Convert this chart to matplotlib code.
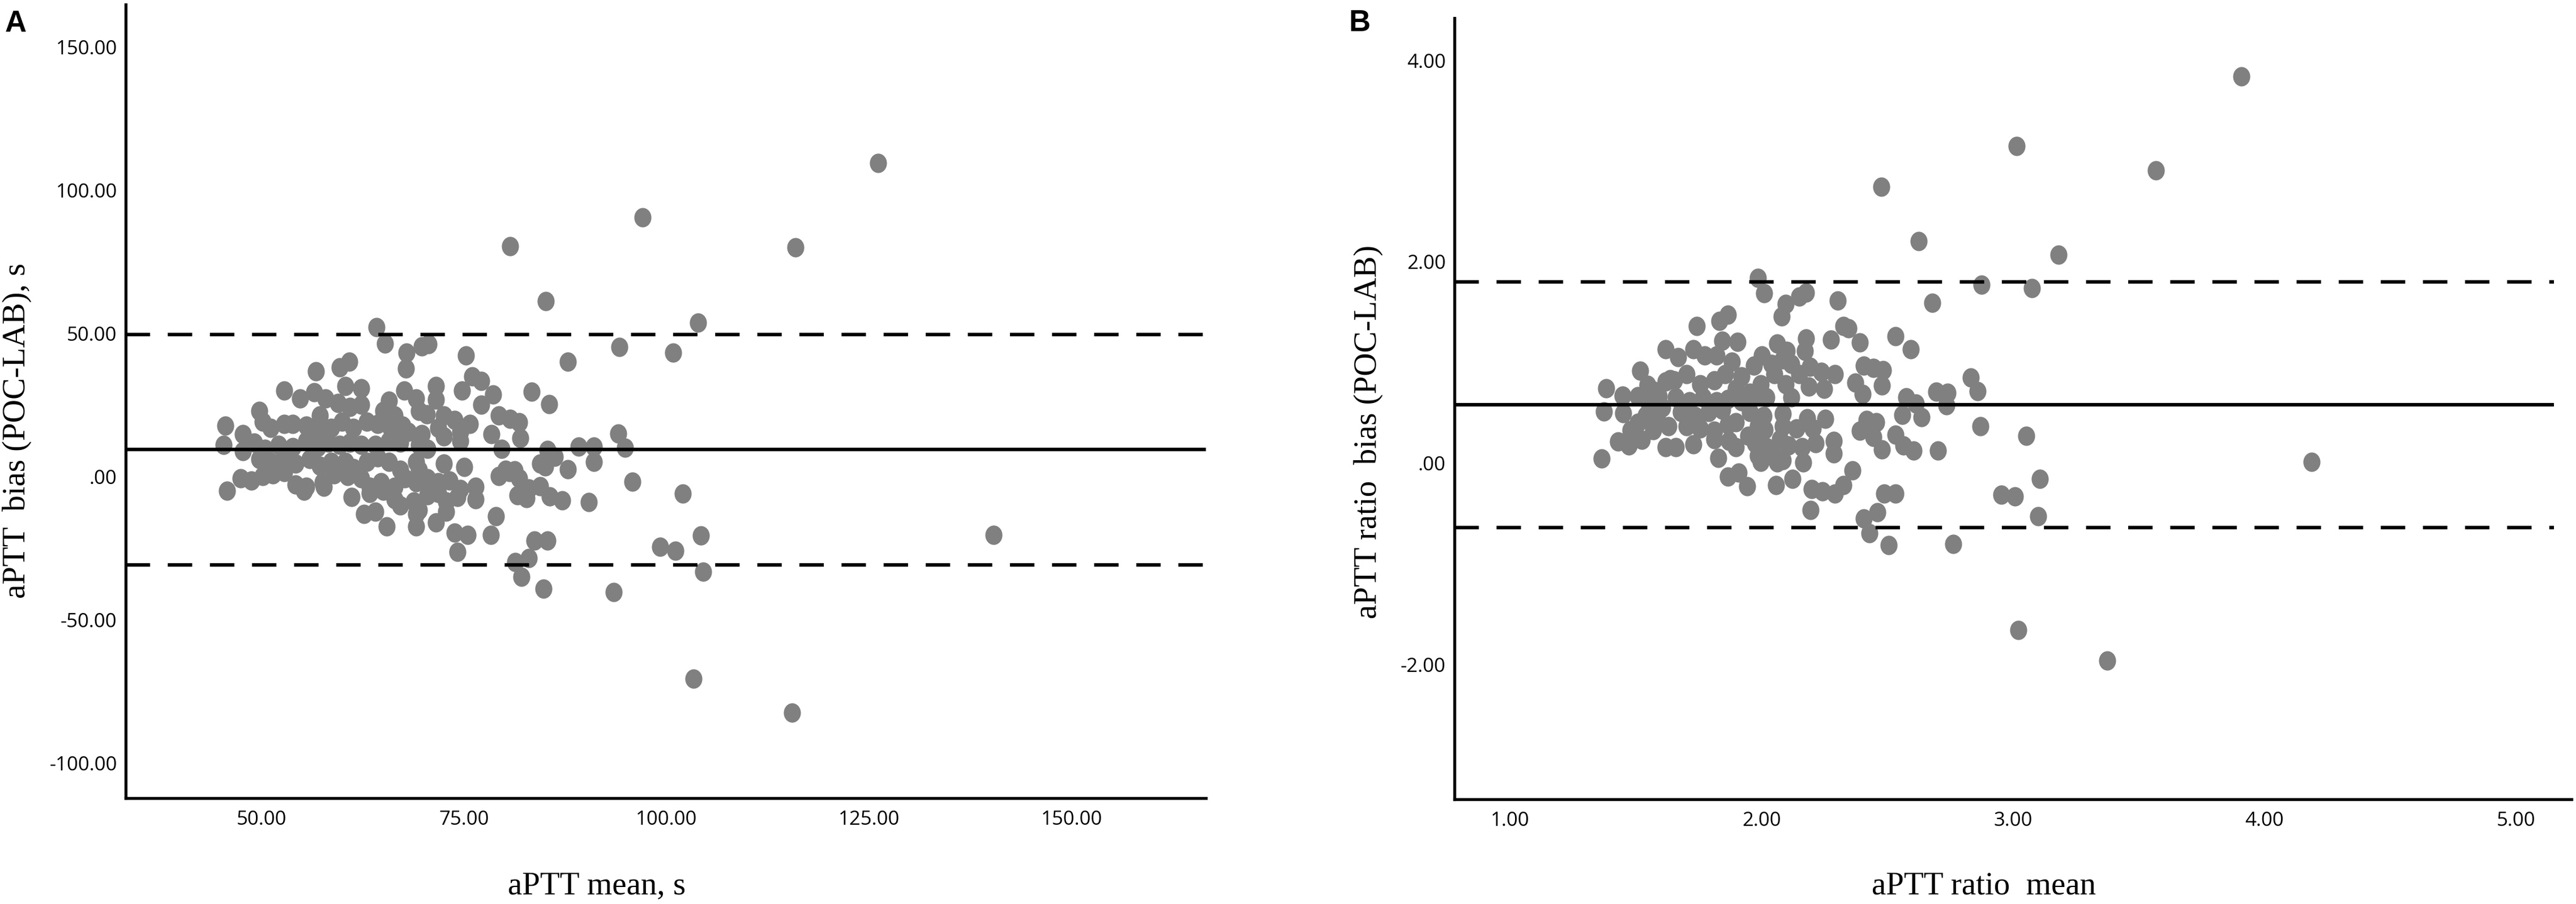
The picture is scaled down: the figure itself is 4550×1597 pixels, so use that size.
import numpy as np
import matplotlib.pyplot as plt
from matplotlib.path import Path
from matplotlib.ticker import FuncFormatter

# Panel A: aPTT mean (s) vs bias POC-LAB (s)
a_mean = [126.1, 97.0, 115.9, 80.7, 85.1, 103.9, 94.2, 100.8, 87.8, 83.3, 85.5, 80.7, 81.8, 81.9,
          94.0, 94.9, 89.1, 91.0, 85.3, 86.2, 91.0, 87.8, 85.0, 81.2, 81.8, 83.0, 84.4, 82.7,
          85.6, 87.1, 90.4, 95.8, 102.0, 140.4, 83.7, 85.3, 83.0, 81.3, 99.2, 101.1, 104.2,
          104.5, 82.1, 84.8, 93.5, 103.3, 115.5,
          64.2, 65.2, 67.9, 69.8, 70.6, 67.8, 75.2, 56.7, 59.6, 60.8, 52.8, 54.7, 56.5, 57.9,
          60.3, 62.3, 59.4, 60.9, 62.3, 76.0, 77.1, 74.7, 71.5, 71.5, 67.6, 69.1, 65.7, 78.6,
          77.1, 49.7, 65.0, 66.4, 57.2, 69.4, 70.4, 72.5, 73.8, 75.7, 79.3,
          45.5, 47.7, 50.1, 51.1, 52.8, 53.8, 55.5, 56.9, 58.6, 59.9, 61.3, 63.0, 64.3, 65.9,
          67.4, 68.1, 69.8, 71.8, 72.5, 74.5, 74.5, 78.4,
          45.3, 47.7, 49.1, 50.4, 52.1, 53.8, 55.5, 56.9, 58.2, 59.6, 60.9, 62.3, 64.0, 65.7,
          67.1, 69.4, 70.5, 79.6,
          49.7, 51.1, 52.8, 54.2, 55.9, 57.2, 58.6, 60.3, 61.3, 63.0, 64.3, 65.7, 67.1, 69.1,
          69.4, 72.5, 75.0, 80.1, 84.4,
          47.4, 48.7, 50.1, 51.4, 52.8, 54.2, 55.5, 57.5, 58.9, 60.6, 62.3, 63.3, 64.7, 66.4,
          67.7, 69.1, 70.5, 71.8, 73.2, 74.5, 79.3, 80.6,
          45.7, 55.2, 57.7, 61.1, 63.3, 65.0, 66.4, 67.1, 68.8, 69.4, 70.5, 71.8, 72.8, 74.2,
          76.4, 76.4, 81.6,
          62.6, 64.0, 65.4, 69.1, 71.5, 72.8, 69.1, 78.9, 78.3, 73.8, 75.4, 74.2]
a_bias = [109.4, 90.5, 80.0, 80.4, 61.2, 53.8, 45.2, 43.3, 40.1, 29.6, 25.3, 20.1, 19.0, 13.5,
          15.0, 10.0, 10.4, 10.4, 9.3, 6.9, 5.2, 2.5, 3.5, 2.1, -0.6, -4.1, -3.4, -7.6,
          -6.9, -8.3, -9.0, -1.8, -5.9, -20.3, -22.4, -22.4, -28.4, -29.8, -24.6, -26.0, -20.5,
          -33.2, -35.0, -39.2, -40.3, -70.6, -82.4,
          52.1, 46.4, 43.3, 45.5, 46.2, 37.8, 42.2, 36.7, 38.2, 40.0, 30.1, 27.2, 29.4, 27.2,
          31.6, 30.8, 25.7, 24.3, 25.0, 34.9, 33.4, 30.1, 31.6, 26.8, 30.1, 27.2, 26.4, 28.6,
          25.0, 22.8, 22.8, 21.3, 21.3, 22.8, 21.7, 21.3, 19.8, 18.4, 21.3,
          17.7, 14.7, 19.1, 16.9, 18.4, 18.4, 17.7, 16.2, 16.9, 19.1, 16.9, 19.1, 18.4, 16.9,
          17.7, 15.5, 14.7, 16.9, 14.0, 15.5, 12.5, 14.7,
          11.1, 8.9, 11.8, 9.6, 11.1, 10.3, 12.5, 10.3, 11.8, 11.1, 11.8, 11.1, 11.1, 12.5,
          11.8, 11.1, 9.6, 9.6,
          6.0, 5.2, 6.7, 4.5, 6.0, 3.7, 5.2, 5.2, 3.0, 5.2, 6.7, 5.2, 2.3, 5.2,
          2.3, 4.5, 3.4, 2.3, 4.5,
          -0.6, -1.4, 0.1, 0.8, 1.6, -2.8, -3.6, -2.1, 0.8, 0.1, -0.6, -3.6, -2.1, -3.6,
          -0.6, -2.1, -0.6, -2.1, -1.4, -4.3, 0.1, 1.6,
          -5.0, -5.0, -3.6, -7.2, -5.8, -5.0, -7.9, -10.2, -8.7, -11.6, -6.5, -5.8, -8.7, -7.2,
          -3.6, -7.9, -6.5,
          -13.1, -12.3, -17.5, -17.5, -16.0, -12.3, -13.1, -13.8, -20.4, -19.7, -20.4, -26.3]
a_lines = [9.5, 49.6, -30.8]  # mean bias, upper and lower limits of agreement

# Panel B: aPTT ratio mean vs ratio bias POC-LAB
b_mean = [3.907, 3.015, 3.568, 3.181, 3.075, 3.054, 4.188, 3.108, 3.009, 3.100, 3.021, 3.374, 2.477,
          2.625, 1.987, 2.012, 2.876, 2.680, 2.303, 2.096, 2.080, 2.150, 2.178, 1.867, 1.834,
          1.744, 2.325, 2.347, 2.276, 2.391, 2.533, 2.593, 2.178, 2.172, 1.845, 1.905, 2.063,
          2.101, 1.730, 1.670, 1.774, 1.823, 1.883, 2.003, 1.970, 2.041, 2.085, 2.118, 2.194,
          2.238, 2.292, 2.407, 2.445, 2.483, 2.833, 2.374, 2.402, 2.478, 2.249, 2.189, 2.860,
          2.696, 2.740, 2.735, 2.576, 2.614,
          1.654, 1.703, 1.757, 1.812, 1.856, 1.921, 1.899, 1.954, 1.998, 2.052, 2.096, 2.118, 2.151,
          1.659, 1.714, 1.768, 1.823, 1.867, 1.921, 1.965, 2.019,
          1.681, 1.736, 1.790, 1.845, 1.954, 2.009, 2.085, 2.183, 2.254, 2.418, 2.456, 2.560,
          2.636, 2.871,
          1.703, 1.757, 1.812, 1.867, 1.899, 1.987, 2.014, 2.085, 2.140, 2.205, 2.391, 2.446, 2.533,
          1.659, 1.730, 1.812, 1.872, 1.899, 1.949, 1.976, 2.019, 2.074, 2.107, 2.161, 2.216,
          2.287, 2.287, 2.478, 2.565, 2.604, 2.702,
          1.828, 1.987, 1.998, 2.052, 2.085, 2.063, 2.167, 2.363, 1.867, 1.910, 1.943, 2.058,
          2.123, 2.200, 2.243, 2.292, 2.325, 2.489, 2.533, 2.953, 2.196, 2.462, 2.407, 2.429,
          2.505, 2.762,
          1.384, 1.375, 1.448, 1.450, 1.517, 1.547, 1.510, 1.510, 1.540, 1.619, 1.619, 1.637,
          1.592, 1.607, 1.585, 1.570, 1.630, 1.431, 1.472, 1.525, 1.619, 1.365, 1.555, 1.570, 1.480]
b_bias = [3.84, 3.15, 2.91, 2.07, 1.74, 0.27, 0.01, -0.16, -0.33, -0.53, -1.66, -1.96, 2.742,
          2.205, 1.841, 1.685, 1.774, 1.591, 1.612, 1.580, 1.456, 1.653, 1.695, 1.476, 1.414,
          1.362, 1.362, 1.341, 1.227, 1.196, 1.258, 1.133, 1.237, 1.112, 1.216, 1.206, 1.185,
          1.112, 1.133, 1.050, 1.071, 1.071, 1.008, 1.071, 0.967, 0.987, 1.029, 0.987, 0.956,
          0.904, 0.883, 0.967, 0.946, 0.925, 0.852, 0.800, 0.686, 0.769, 0.738, 0.759, 0.717,
          0.706, 0.696, 0.571, 0.654, 0.592,
          0.821, 0.883, 0.779, 0.821, 0.883, 0.863, 0.738, 0.696, 0.779, 0.883, 0.779, 0.654, 0.883,
          0.654, 0.613, 0.654, 0.613, 0.634, 0.613, 0.654, 0.654,
          0.509, 0.467, 0.509, 0.530, 0.509, 0.467, 0.488, 0.446, 0.436, 0.425, 0.405, 0.478,
          0.457, 0.363,
          0.363, 0.342, 0.321, 0.384, 0.405, 0.363, 0.332, 0.363, 0.342, 0.342, 0.321, 0.259, 0.280,
          0.155, 0.186, 0.238, 0.217, 0.155, 0.269, 0.197, 0.155, 0.238, 0.176, 0.155, 0.197,
          0.217, 0.093, 0.134, 0.176, 0.124, 0.124,
          0.051, 0.072, 0.009, 0.072, 0.030, 0.008, 0.008, -0.074, -0.136, -0.095, -0.230, -0.220,
          -0.157, -0.261, -0.282, -0.303, -0.220, -0.303, -0.303, -0.313, -0.469, -0.490, -0.553,
          -0.698, -0.813, -0.802,
          0.741, 0.513, 0.672, 0.494, 0.915, 0.775, 0.662, 0.400, 0.475, 1.131, 0.812, 0.831,
          0.662, 0.550, 0.438, 0.325, 0.363, 0.213, 0.176, 0.232, 0.157, 0.044, 0.587, 0.719, 0.325]
b_lines = [0.58, 1.80, -0.64]

W, H = 4550, 1597
GREY = '#808080'
SERIF = 'Liberation Serif'
plt.rcParams['font.family'] = ['Open Sans', 'DejaVu Sans']


def fmt(v, pos):
    s = f"{v:.2f}"
    if s in ("0.00", "-0.00"):
        return ".00"
    return s


circ = Path.unit_circle()
dot = Path(circ.vertices * np.array([0.88, 1.0]), circ.codes)

fig = plt.figure(figsize=(W / 100, H / 100), dpi=100)
axA = fig.add_axes([222 / W, 1 - 1410 / H, (2130 - 222) / W, (1410 - 8) / H])
axB = fig.add_axes([2569 / W, 1 - 1412 / H, (4542 - 2569) / W, (1412 - 32) / H])


def draw(ax, x, y, lines, xlim, ylim, xticks, yticks, xend):
    ax.scatter(x, y, s=610, marker=dot, color=GREY, linewidths=0, zorder=2)
    ax.plot([xlim[0], xend], [lines[0]] * 2, color='k', lw=4.5, zorder=3,
            solid_capstyle='butt')
    for v in lines[1:]:
        ax.plot([xlim[0], xend], [v, v], color='k', lw=4.5, zorder=3,
                linestyle=(0, (6.9, 5.0)), dash_capstyle='butt')
    ax.set_xlim(xlim)
    ax.set_ylim(ylim)
    ax.set_xticks(xticks)
    ax.set_yticks(yticks)
    ax.xaxis.set_major_formatter(FuncFormatter(fmt))
    ax.yaxis.set_major_formatter(FuncFormatter(fmt))
    for s in ['top', 'right']:
        ax.spines[s].set_visible(False)
    for s in ['left', 'bottom']:
        ax.spines[s].set_linewidth(3.8)
    ax.tick_params(axis='both', length=0, labelsize=25, colors='black')
    ax.tick_params(axis='y', pad=11)
    ax.tick_params(axis='x', pad=15)


draw(axA, a_mean, a_bias, a_lines, (33.2, 166.6), (-112.3, 164.8),
     [50, 75, 100, 125, 150], [-100, -50, 0, 50, 100, 150], 166.6)
draw(axB, b_mean, b_bias, b_lines, (0.78, 5.22), (-3.34, 4.42),
     [1, 2, 3, 4, 5], [-2, 0, 2, 4], 5.15)

fig.text(30 / W, 1 - 761 / H, 'aPTT  bias (POC-LAB), s', rotation=90, ha='center',
         va='center', family=SERIF, fontsize=41)
fig.text(2417 / W, 1 - 763 / H, 'aPTT ratio  bias (POC-LAB)', rotation=90, ha='center',
         va='center', family=SERIF, fontsize=41)
fig.text(1054 / W, 1 - 1565 / H, 'aPTT mean, s', ha='center', va='center',
         family=SERIF, fontsize=41)
fig.text(3504 / W, 1 - 1565 / H, 'aPTT ratio  mean', ha='center', va='center',
         family=SERIF, fontsize=41)
fig.text(28 / W, 1 - 42 / H, 'A', ha='center', va='center', family='Liberation Sans',
         weight='bold', fontsize=38)
fig.text(2402 / W, 1 - 41 / H, 'B', ha='center', va='center', family='Liberation Sans',
         weight='bold', fontsize=38)

fig.savefig('out.png', dpi=100)
